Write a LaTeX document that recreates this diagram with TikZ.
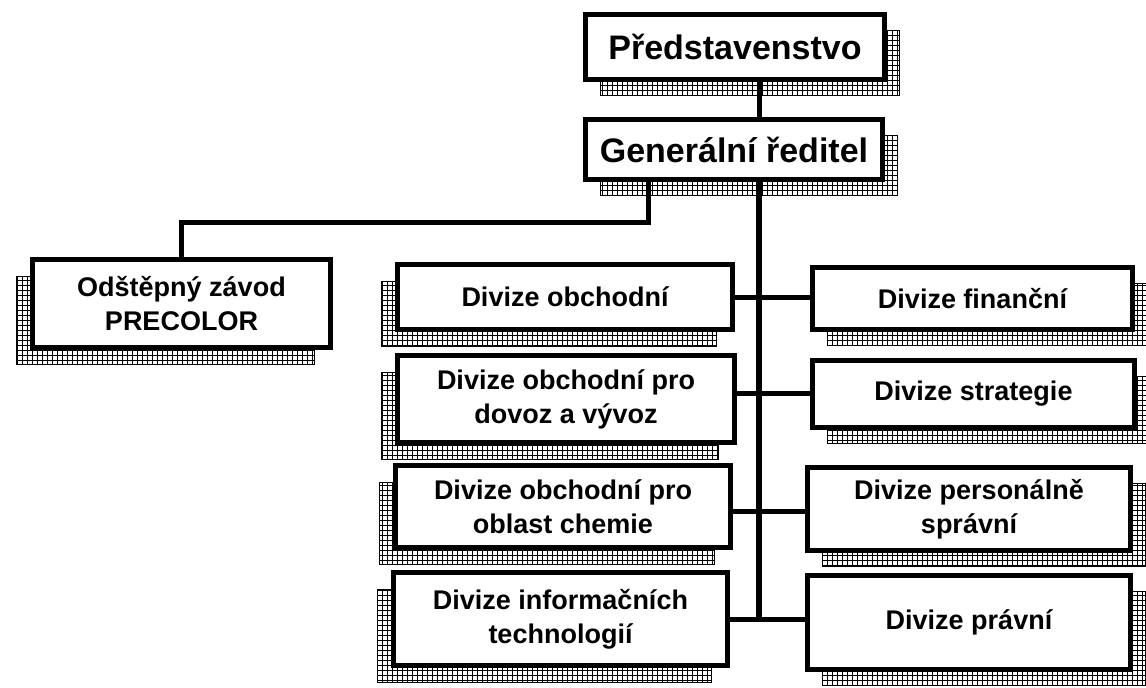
\documentclass[tikz,border=0pt]{standalone}
\usepackage{fontspec}
\setmainfont{Liberation Sans}
\usetikzlibrary{patterns,shadows}
\pgfdeclarepatternformonly{hatchgrid}{\pgfqpoint{-1pt}{-1pt}}{\pgfqpoint{6pt}{6pt}}{\pgfqpoint{5pt}{5pt}}{%
  \pgfsetlinewidth{1.3pt}%
  \pgfpathmoveto{\pgfqpoint{-0.1pt}{2.5pt}}\pgfpathlineto{\pgfqpoint{5.1pt}{2.5pt}}%
  \pgfpathmoveto{\pgfqpoint{2.5pt}{-0.1pt}}\pgfpathlineto{\pgfqpoint{2.5pt}{5.1pt}}%
  \pgfusepath{stroke}}
\tikzset{
  orgbox/.style={draw=black, line width=5pt, fill=white, inner sep=0pt, align=center,
    font=\bfseries\fontsize{27}{34}\selectfont},
  bigbox/.style={orgbox, font=\bfseries\fontsize{34}{40}\selectfont},
  shR/.style={general shadow={shadow xshift=15pt, shadow yshift=-16pt, pattern=hatchgrid,
    pattern color=black, draw=black, line width=1.5pt}},
  shL/.style={general shadow={shadow xshift=-16pt, shadow yshift=-17pt, pattern=hatchgrid,
    pattern color=black, draw=black, line width=1.5pt}},
  conn/.style={line width=5pt, draw=black},
}
\begin{document}
\begin{tikzpicture}[x=1pt,y=-1pt]
\useasboundingbox[fill=white] (0,0) rectangle (1146,688);

% top
\node[bigbox, shR, minimum width=299pt, minimum height=65pt] (pr) at (735,47) {Představenstvo};
\node[bigbox, shR, minimum width=297pt, minimum height=60pt] (gr) at (734,149.5) {Generální ředitel};

% branch
\node[orgbox, shL, minimum width=298pt, minimum height=88pt] (pc) at (181.5,303.5) {Odštěpný závod\\PRECOLOR};

% left column
\node[orgbox, shL, minimum width=335pt, minimum height=65pt] (l1) at (565,297) {Divize obchodní};
\node[orgbox, shL, minimum width=337pt, minimum height=87pt] (l2) at (566,399) {Divize obchodní pro\\dovoz a vývoz};
\node[orgbox, shL, minimum width=335pt, minimum height=82pt] (l3) at (563,506.5) {Divize obchodní pro\\oblast chemie};
\node[orgbox, shL, minimum width=334pt, minimum height=93pt] (l4) at (560.5,619) {Divize informačních\\technologií};

% right column
\node[orgbox, shR, minimum width=320pt, minimum height=62pt] (r1) at (972.5,298.5) {Divize finanční};
\node[orgbox, shR, minimum width=322pt, minimum height=67pt] (r2) at (973.5,394) {Divize strategie};
\node[orgbox, shR, minimum width=323pt, minimum height=83pt] (r3) at (969,509) {Divize personálně\\správní};
\node[orgbox, shR, minimum width=323pt, minimum height=94pt] (r4) at (969,622.5) {Divize právní};

% connectors
\coordinate (tx) at (759,619);
\coordinate (lb) at (648,222);
\coordinate (y1) at (0,297);
\coordinate (y2) at (0,393);
\coordinate (y3) at (0,511);
\coordinate (y4) at (0,619);

\draw[conn] (pr.south -| tx) -- (gr.north -| tx);
\draw[conn] (gr.south -| lb) -- (lb) -| (pc.north);
\draw[conn, line width=6pt] (gr.south -| tx) -- (tx);
\draw[conn] (l1.east |- y1) -- (r1.west |- y1);
\draw[conn] (l2.east |- y2) -- (r2.west |- y2);
\draw[conn] (l3.east |- y3) -- (r3.west |- y3);
\draw[conn] (l4.east |- y4) -- (r4.west |- y4);
\end{tikzpicture}
\end{document}
